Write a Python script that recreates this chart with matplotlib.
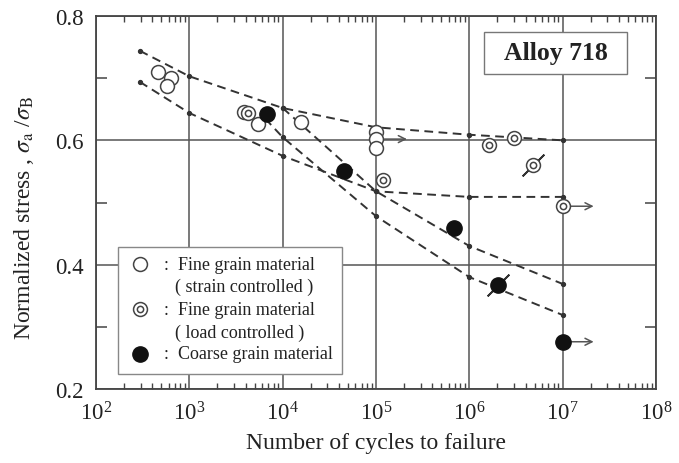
import matplotlib
matplotlib.use("Agg")
import matplotlib.pyplot as plt
from matplotlib.patches import Rectangle
from matplotlib.ticker import FixedLocator, LogLocator, NullFormatter

plt.rcParams["font.family"] = ["Liberation Serif", "DejaVu Serif"]
plt.rcParams["mathtext.fontset"] = "stix"

# fine grain, strain controlled (open circles)
strain_cycles = [460, 640, 580, 3900, 5500, 15700, 1.0e5, 1.0e5, 1.0e5]
strain_stress = [0.710, 0.700, 0.687, 0.645, 0.626, 0.630, 0.614, 0.602, 0.587]

# fine grain, load controlled (double circles)
load_cycles = [4300, 1.19e5, 1.63e6, 3.0e6, 4.8e6, 1.0e7]
load_stress = [0.644, 0.536, 0.593, 0.604, 0.561, 0.494]

# coarse grain (filled circles)
coarse_cycles = [6800, 4.55e4, 6.9e5, 2.04e6, 1.0e7]
coarse_stress = [0.642, 0.551, 0.459, 0.367, 0.276]

# run-outs, drawn with an arrow to the right
runout_cycles = [1.0e5, 1.0e7, 1.0e7]
runout_stress = [0.602, 0.494, 0.276]

# specimens marked with a slash
slash_cycles = [4.8e6, 2.04e6]
slash_stress = [0.561, 0.367]

# dashed guide curves (nodes at each decade)
curve_strain_n = [295, 1e3, 1e4, 1e5, 1e6, 1e7]
curve_strain_s = [0.744, 0.703, 0.652, 0.621, 0.609, 0.600]
curve_load_n = [295, 1e3, 1e4, 1e5, 1e6, 1e7]
curve_load_s = [0.694, 0.644, 0.575, 0.518, 0.509, 0.509]
curve_coarse_hi_n = [1e4, 1e5, 1e6, 1e7]
curve_coarse_hi_s = [0.652, 0.518, 0.430, 0.369]
curve_coarse_lo_n = [6500, 1e4, 1e5, 1e6, 1e7]
curve_coarse_lo_s = [0.635, 0.605, 0.478, 0.380, 0.319]

x_ticks = [1e2, 1e3, 1e4, 1e5, 1e6, 1e7, 1e8]
y_ticks = [0.2, 0.4, 0.6, 0.8]
y_ticklabels = ["0.2", "0.4", "0.6", "0.8"]

legend_rows = [
    ("open", "Fine grain material", "( strain controlled )"),
    ("double", "Fine grain material", "( load controlled )"),
    ("filled", "Coarse grain material", None),
]

EDGE = "#444444"
TEXT = "#222222"

fig = plt.figure(figsize=(6.79, 4.64), dpi=100)
ax = fig.add_axes([96 / 679, 74 / 464, 560 / 679, 373 / 464])
ax.set_xscale("log")
ax.set_xlim(1e2, 1e8)
ax.set_ylim(0.2, 0.8)

# axes, grid and ticks
ax.set_xticks(x_ticks)
ax.set_yticks(y_ticks)
ax.set_yticklabels(y_ticklabels)
ax.grid(True, which="major", color="#555555", linewidth=1.1)
ax.yaxis.set_minor_locator(FixedLocator([0.3, 0.5, 0.7]))
ax.xaxis.set_minor_locator(LogLocator(base=10, subs=range(2, 10)))
ax.xaxis.set_minor_formatter(NullFormatter())
ax.tick_params(which="major", length=0, labelsize=16.5, colors=TEXT)
ax.tick_params(axis="x", which="major", pad=9)
ax.tick_params(axis="y", which="major", pad=9)
ax.tick_params(axis="x", which="minor", direction="in", length=4,
               top=True, bottom=True, color=EDGE, width=1)
ax.tick_params(axis="y", which="minor", direction="in", length=8,
               left=True, right=True, color=EDGE, width=1.1)
for sp in ax.spines.values():
    sp.set_color(EDGE)
    sp.set_linewidth(1.3)

ax.set_xlabel("Number of cycles to failure", fontsize=17, color=TEXT)
ax.set_ylabel(r"Normalized stress , $\sigma_{\mathrm{a}}$ /$\sigma_{\mathrm{B}}$",
              fontsize=17, color=TEXT)
ax.xaxis.set_label_coords(0.5, -0.115)
ax.yaxis.set_label_coords(-0.108, 0.46)

# dashed curves
dash = dict(color="#333333", linewidth=1.4, linestyle=(0, (4.5, 2.8)),
            marker="o", markersize=2.8, zorder=2)
ax.plot(curve_strain_n, curve_strain_s, **dash)
ax.plot(curve_load_n, curve_load_s, **dash)
ax.plot(curve_coarse_hi_n, curve_coarse_hi_s, **dash)
ax.plot(curve_coarse_lo_n, curve_coarse_lo_s, markevery=slice(1, None), **dash)

# slashes behind the markers
ax.plot(slash_cycles, slash_stress, linestyle="none", marker=(2, 2, -45),
        markersize=22, markeredgecolor="#333333", markeredgewidth=1.3, zorder=3)

# run-out arrows
for n, s in zip(runout_cycles, runout_stress):
    ax.annotate("", xy=(n * 2.3, s), xytext=(n * 1.15, s),
                arrowprops=dict(arrowstyle="->,head_length=0.5,head_width=0.25",
                                color="#555555", lw=1.1), zorder=3)

# data markers
open_style = dict(linestyle="none", marker="o", markersize=10, markerfacecolor="white",
                  markeredgecolor=EDGE, markeredgewidth=1.1, zorder=4)
inner_style = dict(linestyle="none", marker="o", markersize=4.5, markerfacecolor="white",
                   markeredgecolor=EDGE, markeredgewidth=1.1, zorder=5)
filled_style = dict(linestyle="none", marker="o", markersize=11, markerfacecolor="#111111",
                    markeredgecolor="#111111", zorder=4)

ax.plot(strain_cycles, strain_stress, **open_style)
ax.plot(load_cycles, load_stress, **open_style)
ax.plot(load_cycles, load_stress, **inner_style)
ax.plot(coarse_cycles, coarse_stress, **filled_style)

# Alloy label box
ax.add_patch(Rectangle((0.693, 0.845), 0.255, 0.112, transform=ax.transAxes,
                       facecolor="white", edgecolor="#777777", linewidth=1, zorder=6))
ax.text(0.8205, 0.901, "Alloy 718", transform=ax.transAxes, ha="center", va="center",
        fontsize=18.5, fontweight="bold", color=TEXT, zorder=7)

# legend drawn by hand
ax.add_patch(Rectangle((0.039, 0.040), 0.400, 0.341, transform=ax.transAxes,
                       facecolor="white", edgecolor="#888888", linewidth=1, zorder=6))
row_y = [0.335, 0.214, 0.094]
for (kind, label, sub), y in zip(legend_rows, row_y):
    if kind == "filled":
        ax.plot([0.079], [y], transform=ax.transAxes, **{**filled_style, "zorder": 7})
    else:
        ax.plot([0.079], [y], transform=ax.transAxes, **{**open_style, "zorder": 7})
        if kind == "double":
            ax.plot([0.079], [y], transform=ax.transAxes, **{**inner_style, "zorder": 8})
    ax.text(0.120, y, ":", transform=ax.transAxes, ha="left", va="center",
            fontsize=13, color=TEXT, zorder=7)
    ax.text(0.146, y, label, transform=ax.transAxes, ha="left", va="center",
            fontsize=13, color=TEXT, zorder=7)
    if sub:
        ax.text(0.141, y - 0.061, sub, transform=ax.transAxes, ha="left", va="center",
                fontsize=13, color=TEXT, zorder=7)

fig.savefig("out.png", dpi=100)
